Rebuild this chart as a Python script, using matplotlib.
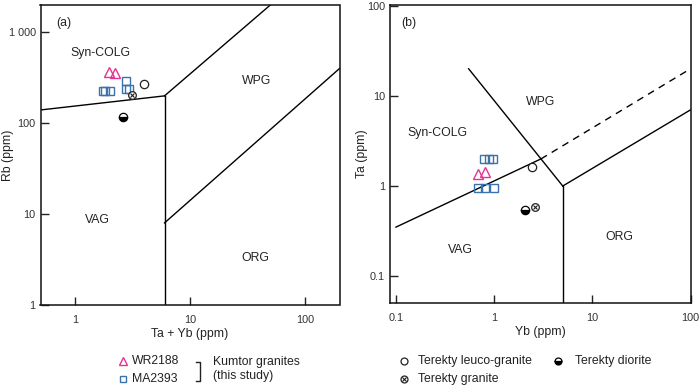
import matplotlib
matplotlib.use("Agg")
import matplotlib.pyplot as plt
from matplotlib.ticker import FixedLocator, FixedFormatter, NullLocator

plt.rcParams['font.family'] = ['Liberation Sans', 'DejaVu Sans']

# ---------------- data ----------------
# Panel (a): Rb vs Ta+Yb
a_wr_x = [1.98, 2.24]
a_wr_y = [365, 356]
a_ma_x = [1.75, 1.83, 2.03, 2.79, 2.79, 2.96]
a_ma_y = [229, 229, 229, 290, 238, 238]
a_leuco_x, a_leuco_y = [4.0], [268]
a_granite_x, a_granite_y = [3.12], [205]
a_diorite_x, a_diorite_y = [2.59], [117]

# Panel (b): Ta vs Yb
b_wr_x = [0.69, 0.81]
b_wr_y = [1.35, 1.42]
b_ma_x = [0.79, 0.89, 0.98, 0.69, 0.81, 1.0]
b_ma_y = [1.98, 1.98, 1.98, 0.957, 0.957, 0.957]
b_leuco_x, b_leuco_y = [2.43], [1.61]
b_granite_x, b_granite_y = [2.62], [0.59]
b_diorite_x, b_diorite_y = [2.07], [0.54]

# Field boundaries (Pearce et al., 1984)
a_bounds = [([0.5, 6], [140, 200]), ([6, 6], [200, 1]),
            ([6, 50], [200, 2000]), ([6, 200], [8, 400])]
b_bounds = [([0.55, 5], [20, 1]), ([5, 5], [1, 0.05]),
            ([5, 100], [1, 7]), ([0.1, 3], [0.35, 2])]
b_dashed = ([3, 100], [2, 20])

a_xticks = [1, 10, 100]
a_xlabels = ['1', '10', '100']
a_yticks = [1, 10, 100, 1000]
a_ylabels = ['1', '10', '100', '1 000']
b_xticks = [0.1, 1, 10, 100]
b_xlabels = ['0.1', '1', '10', '100']
b_yticks = [0.1, 1, 10, 100]
b_ylabels = ['0.1', '1', '10', '100']

PINK = '#e6338f'
BLUE = '#3a72ad'
TXT = '#222222'
LW = 1.0
MS = 6
FS = 8.8
TFS = 7.8

fig = plt.figure(figsize=(7.0, 3.85), dpi=100)
axA = fig.add_axes([40.5 / 700, 1 - 305 / 385, 299 / 700, 300 / 385])
axB = fig.add_axes([390 / 700, 1 - 303.3 / 385, 300.5 / 700, 298.3 / 385])


def style(ax, xt, xl, yt, yl):
    ax.set_xscale('log')
    ax.set_yscale('log')
    ax.xaxis.set_major_locator(FixedLocator(xt))
    ax.xaxis.set_major_formatter(FixedFormatter(xl))
    ax.yaxis.set_major_locator(FixedLocator(yt))
    ax.yaxis.set_major_formatter(FixedFormatter(yl))
    ax.xaxis.set_minor_locator(NullLocator())
    ax.yaxis.set_minor_locator(NullLocator())
    ax.tick_params(direction='in', length=5.5, width=1.0, labelsize=TFS,
                   colors='#222222', labelcolor='#333333')
    ax.tick_params(axis='x', pad=7)
    ax.tick_params(axis='y', pad=3.5)
    for s in ax.spines.values():
        s.set_linewidth(1.1)
        s.set_color('#111111')


def plot_points(ax, wrx, wry, max_, may, lx, ly, gx, gy, dx, dy):
    ax.plot(wrx, wry, ls='none', marker='^', ms=MS + 0.5, mfc='none', mec=PINK, mew=1.0)
    ax.plot(max_, may, ls='none', marker='s', ms=MS - 0.5, mfc='none', mec=BLUE, mew=1.0)
    ax.plot(lx, ly, ls='none', marker='o', ms=MS, mfc='white', mec='#222222', mew=0.9)
    ax.plot(gx, gy, ls='none', marker='o', ms=MS - 0.5, mfc='white', mec='#222222', mew=0.9)
    ax.plot(gx, gy, ls='none', marker='x', ms=MS - 2.5, mec='#222222', mew=0.8)
    ax.plot(dx, dy, ls='none', marker='o', ms=MS, fillstyle='bottom',
            mfc='black', mfcalt='white', mec='black', mew=0.9)


# ---- Panel (a)
style(axA, a_xticks, a_xlabels, a_yticks, a_ylabels)
axA.set_xlim(0.5, 200)
axA.set_ylim(1, 2000)
for xs, ys in a_bounds:
    axA.plot(xs, ys, color='black', lw=LW)
plot_points(axA, a_wr_x, a_wr_y, a_ma_x, a_ma_y, a_leuco_x, a_leuco_y,
            a_granite_x, a_granite_y, a_diorite_x, a_diorite_y)
axA.text(1.65, 600, 'Syn-COLG', fontsize=FS, ha='center', va='center', color=TXT)
axA.text(38, 290, 'WPG', fontsize=FS, ha='center', va='center', color=TXT)
axA.text(1.56, 8.7, 'VAG', fontsize=FS, ha='center', va='center', color=TXT)
axA.text(37, 3.3, 'ORG', fontsize=FS, ha='center', va='center', color=TXT)
axA.text(0.052, 0.94, '(a)', transform=axA.transAxes, fontsize=FS, ha='left', va='center', color=TXT)
axA.set_xlabel('Ta + Yb (ppm)', fontsize=FS, labelpad=2, color=TXT)
axA.set_ylabel('Rb (ppm)', fontsize=FS, color=TXT)
axA.yaxis.set_label_coords((14 - 40.5) / 299, 0.5)

# ---- Panel (b)
style(axB, b_xticks, b_xlabels, b_yticks, b_ylabels)
axB.set_xlim(0.087, 100)
axB.set_ylim(0.05, 102)
for xs, ys in b_bounds:
    axB.plot(xs, ys, color='black', lw=LW)
axB.plot(b_dashed[0], b_dashed[1], color='black', lw=LW, dashes=(5, 4))
plot_points(axB, b_wr_x, b_wr_y, b_ma_x, b_ma_y, b_leuco_x, b_leuco_y,
            b_granite_x, b_granite_y, b_diorite_x, b_diorite_y)
axB.text(0.263, 3.88, 'Syn-COLG', fontsize=FS, ha='center', va='center', color=TXT)
axB.text(2.98, 8.6, 'WPG', fontsize=FS, ha='center', va='center', color=TXT)
axB.text(0.448, 0.195, 'VAG', fontsize=FS, ha='center', va='center', color=TXT)
axB.text(19, 0.27, 'ORG', fontsize=FS, ha='center', va='center', color=TXT)
axB.text(0.037, 0.94, '(b)', transform=axB.transAxes, fontsize=FS, ha='left', va='center', color=TXT)
axB.set_xlabel('Yb (ppm)', fontsize=FS, labelpad=2, color=TXT)
axB.set_ylabel('Ta (ppm)', fontsize=FS, color=TXT)
axB.yaxis.set_label_coords((368 - 390) / 300.5, 0.5)

# ---- Legends (overlay in pixel coordinates)
lg = fig.add_axes([0, 0, 1, 1], zorder=5)
lg.set_xlim(0, 700)
lg.set_ylim(385, 0)
lg.axis('off')
lg.patch.set_alpha(0)

lg.plot([122.7], [360.7], ls='none', marker='^', ms=MS, mfc='none', mec=PINK, mew=1.0)
lg.plot([122.7], [379], ls='none', marker='s', ms=MS - 1, mfc='none', mec=BLUE, mew=1.0)
lg.text(132, 360.7, 'WR2188', fontsize=FS, ha='left', va='center', color=TXT)
lg.text(132, 379, 'MA2393', fontsize=FS, ha='left', va='center', color=TXT)
lg.plot([196, 199.5, 199.5, 196], [361.5, 361.5, 380.5, 380.5], color=TXT, lw=1.0)
lg.text(213, 362.5, 'Kumtor granites', fontsize=FS, ha='left', va='center', color=TXT)
lg.text(213, 376.5, '(this study)', fontsize=FS, ha='left', va='center', color=TXT)

lg.plot([404.3], [360.7], ls='none', marker='o', ms=MS - 1, mfc='white', mec='#222222', mew=0.9)
lg.text(418, 360.7, 'Terekty leuco-granite', fontsize=FS, ha='left', va='center', color=TXT)
lg.plot([558.3], [360.7], ls='none', marker='o', ms=MS - 1, fillstyle='bottom',
        mfc='black', mfcalt='white', mec='black', mew=0.9)
lg.text(575, 360.7, 'Terekty diorite', fontsize=FS, ha='left', va='center', color=TXT)
lg.plot([404.3], [379], ls='none', marker='o', ms=MS - 1, mfc='white', mec='#222222', mew=0.9)
lg.plot([404.3], [379], ls='none', marker='x', ms=MS - 3, mec='#222222', mew=0.8)
lg.text(418, 379, 'Terekty granite', fontsize=FS, ha='left', va='center', color=TXT)

fig.savefig('out.png', dpi=100)
